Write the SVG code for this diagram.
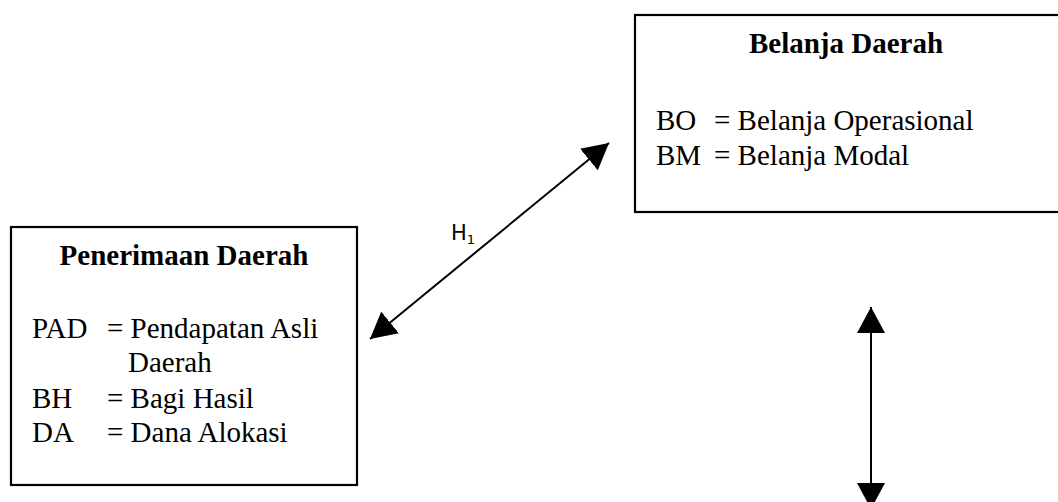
<svg xmlns="http://www.w3.org/2000/svg" width="1058" height="502" viewBox="0 0 1058 502">
<defs>
<style>
.box{fill:#fff;stroke:#000;stroke-width:2.2}
.t{font-family:"Liberation Serif","Times New Roman",serif;font-size:29px;fill:#000}
.b{font-weight:bold}
.c{stroke:#000;stroke-width:2;fill:none}
.h{font-family:"DejaVu Sans",Verdana,sans-serif;font-size:21px;fill:#000}
</style>
<marker id="ah" markerUnits="userSpaceOnUse" markerWidth="28" markerHeight="28" refX="26" refY="14" orient="auto-start-reverse" viewBox="0 0 28 28">
<path d="M0,0 L26,14 L0,28 z" fill="#000"/>
</marker>
</defs>
<rect width="1058" height="502" fill="#fff"/>
<g id="penerimaan">
<rect class="box" x="11" y="227" width="346" height="258"/>
<text class="t b" x="184" y="265" text-anchor="middle">Penerimaan Daerah</text>
<text class="t" x="32" y="338">PAD</text>
<text class="t" x="107" y="338">= Pendapatan Asli</text>
<text class="t" x="128" y="372">Daerah</text>
<text class="t" x="32" y="408">BH</text>
<text class="t" x="107" y="408">= Bagi Hasil</text>
<text class="t" x="32" y="442">DA</text>
<text class="t" x="107" y="442">= Dana Alokasi</text>
</g>
<g id="belanja">
<rect class="box" x="635" y="15" width="430" height="197"/>
<text class="t b" x="846" y="53" text-anchor="middle">Belanja Daerah</text>
<text class="t" x="656" y="130">BO</text>
<text class="t" x="714" y="130">= Belanja Operasional</text>
<text class="t" x="656" y="165">BM</text>
<text class="t" x="714" y="165">= Belanja Modal</text>
</g>
<g id="connectors">
<line class="c" x1="370" y1="339" x2="609" y2="143" marker-start="url(#ah)" marker-end="url(#ah)"/>
<line class="c" x1="871" y1="307" x2="871" y2="509" marker-start="url(#ah)" marker-end="url(#ah)"/>
<text class="h" x="451" y="240">H<tspan font-size="13" dy="4">1</tspan></text>
</g>
</svg>
